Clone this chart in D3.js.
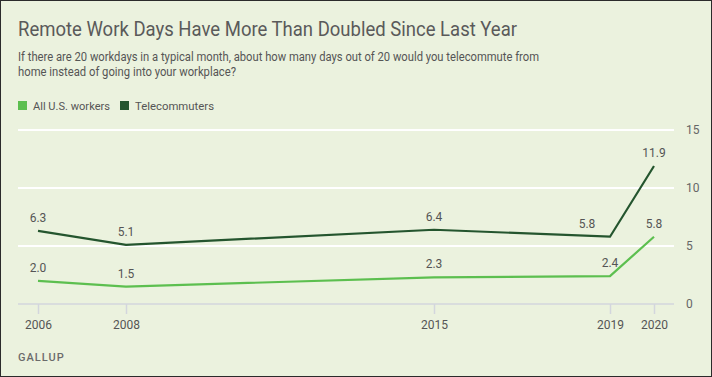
<!DOCTYPE html>
<html>
<head>
<meta charset="utf-8">
<script src="https://cdn.jsdelivr.net/npm/d3@7"></script>
<style>
  body { margin: 0; background: #fff; }
  svg { display: block; font-family: Roboto, "Liberation Sans", sans-serif; }
</style>
</head>
<body>
<div id="chart"></div>
<script>
// --------------------------------------
//  Data
// --------------------------------------

const years = [2006, 2008, 2015, 2019, 2020];
const allWorkers = [2.0, 1.5, 2.3, 2.4, 5.8];
const telecommuters = [6.3, 5.1, 6.4, 5.8, 11.9];
const yTicks = [0, 5, 10, 15];
const seriesNames = ["All U.S. workers", "Telecommuters"];
const seriesColors = ["#5cbf4f", "#24552e"];

// --------------------------------------
//  Margin and canvas
// --------------------------------------

const width = 712;
const height = 377;

const svg = d3.select("#chart")
  .append("svg")
    .attr("width", width)
    .attr("height", height);

svg.append("rect")
    .attr("x", 0.5)
    .attr("y", 0.5)
    .attr("width", width - 1)
    .attr("height", height - 1)
    .attr("fill", "#ebf2de")
    .attr("stroke", "#2b2b2b")
    .attr("stroke-width", 1);

// title + subtitle
svg.append("text")
    .attr("x", 18)
    .attr("y", 36)
    .attr("font-size", 20)
    .attr("fill", "#5a5a5a")
    .attr("textLength", 499)
    .attr("lengthAdjust", "spacingAndGlyphs")
    .text("Remote Work Days Have More Than Doubled Since Last Year");

const subLines = [
  "If there are 20 workdays in a typical month, about how many days out of 20 would you telecommute from",
  "home instead of going into your workplace?"
];
const subWidths = [521, 218];

svg.append("g")
  .selectAll("text")
  .data(subLines)
  .join("text")
    .attr("x", 18)
    .attr("y", (d, i) => 61 + i * 14.5)
    .attr("font-size", 12)
    .attr("fill", "#555")
    .attr("textLength", (d, i) => subWidths[i])
    .attr("lengthAdjust", "spacingAndGlyphs")
    .text(d => d);

// legend
const legend = svg.append("g")
  .selectAll("g")
  .data(seriesNames)
  .join("g")
    .attr("transform", (d, i) => `translate(${i === 0 ? 18 : 120}, 101)`);

legend.append("rect")
    .attr("width", 9)
    .attr("height", 9)
    .attr("fill", (d, i) => seriesColors[i]);

legend.append("text")
    .attr("x", 15)
    .attr("y", 9)
    .attr("font-size", 11.5)
    .attr("fill", "#555")
    .attr("textLength", (d, i) => i === 0 ? 77 : 79)
    .attr("lengthAdjust", "spacingAndGlyphs")
    .text(d => d);

// --------------------------------------
//  Scales
// --------------------------------------

const x = d3.scaleLinear()
    .domain([2006, 2020])
    .range([38, 654]);

const y = d3.scaleLinear()
    .domain([0, 15])
    .range([304, 130]);

// --------------------------------------
//  Gridlines and axes
// --------------------------------------

svg.append("g")
  .selectAll("line")
  .data(yTicks.filter(d => d > 0))
  .join("line")
    .attr("x1", 18)
    .attr("x2", 674)
    .attr("y1", d => y(d))
    .attr("y2", d => y(d))
    .attr("stroke", "#fff")
    .attr("stroke-width", 2);

svg.append("line")
    .attr("x1", 18)
    .attr("x2", 674)
    .attr("y1", y(0))
    .attr("y2", y(0))
    .attr("stroke", "#d3d6dd")
    .attr("stroke-width", 1.5);

svg.append("g")
  .selectAll("text")
  .data(yTicks)
  .join("text")
    .attr("x", 686)
    .attr("y", d => y(d) + 4)
    .attr("font-size", 12)
    .attr("fill", "#666")
    .text(d => d);

const xAxis = svg.append("g")
    .attr("transform", `translate(0, ${y(0)})`)
    .call(d3.axisBottom(x)
      .tickValues(years)
      .tickFormat(d3.format("d"))
      .tickSize(10)
      .tickPadding(6));

xAxis.select(".domain").remove();
xAxis.selectAll(".tick line")
    .attr("stroke", "#d3d6dd")
    .attr("stroke-width", 1.5);
xAxis.selectAll(".tick text")
    .attr("font-size", 12)
    .attr("font-family", "Roboto, sans-serif")
    .attr("fill", "#555");

// --------------------------------------
//  Lines
// --------------------------------------

const series = [allWorkers, telecommuters].map((vals, s) =>
  years.map((yr, i) => ({ year: yr, value: vals[i], s: s }))
);

const line = d3.line()
    .x(d => x(d.year))
    .y(d => y(d.value));

svg.append("g")
  .selectAll("path")
  .data(series)
  .join("path")
    .attr("d", line)
    .attr("fill", "none")
    .attr("stroke", (d, i) => seriesColors[i])
    .attr("stroke-width", 2.2);

// labels (telecommuters 2019 nudged left of the steep segment)
svg.append("g")
  .selectAll("text")
  .data(series.flat())
  .join("text")
    .attr("x", d => x(d.year) + (d.s === 1 && d.year === 2019 ? -23 : 0))
    .attr("y", d => y(d.value) - 9)
    .attr("text-anchor", "middle")
    .attr("font-size", 12)
    .attr("fill", "#555")
    .text(d => d.value.toFixed(1));

// source
svg.append("text")
    .attr("x", 18)
    .attr("y", 361)
    .attr("font-size", 11)
    .attr("font-weight", 500)
    .attr("letter-spacing", 1)
    .attr("fill", "#6b6b6b")
    .text("GALLUP");
</script>
</body>
</html>
